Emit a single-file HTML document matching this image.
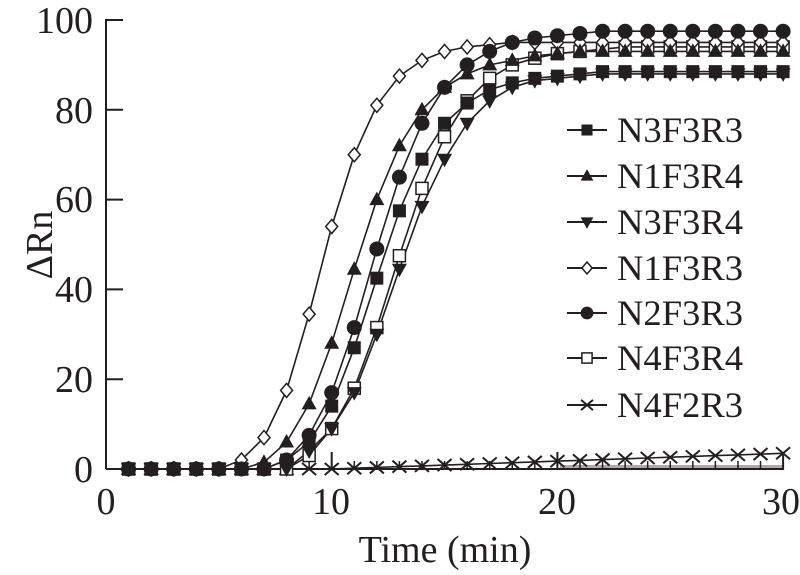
<!DOCTYPE html>
<html><head><meta charset="utf-8"><style>
html,body{margin:0;padding:0;background:#fff;}
svg{display:block;font-family:"Liberation Serif",serif;}
</style></head><body>
<svg id="s" width="800" height="575" viewBox="0 0 800 575" xmlns="http://www.w3.org/2000/svg">
<rect width="800" height="575" fill="#fff"/>
<g id="plot"></g>
<g fill="#231f20" font-size="38">
<text x="93" y="33" text-anchor="end">100</text>
<text x="93" y="123" text-anchor="end">80</text>
<text x="93" y="212" text-anchor="end">60</text>
<text x="93" y="302" text-anchor="end">40</text>
<text x="93" y="392" text-anchor="end">20</text>
<text x="93" y="482" text-anchor="end">0</text>
<text x="106" y="514" text-anchor="middle">0</text>
<text x="331" y="514" text-anchor="middle">10</text>
<text x="557" y="514" text-anchor="middle">20</text>
<text x="781" y="514" text-anchor="middle">30</text>
<text x="445" y="562" text-anchor="middle">Time (min)</text>
<text transform="translate(52,245) rotate(-90)" text-anchor="middle">ΔRn</text>
</g>
</svg>
<script>
const X=t=>106+t*22.57, Y=v=>469-v*4.49;
const fill=(a,n,v)=>{while(a.length<n)a.push(v);return a;};
function arr(start,vals,plateau){let a=[];for(let i=1;i<start;i++)a.push(0);a=a.concat(vals);return fill(a,30,plateau);}
const S=[
 {n:"N3F3R3",m:"sq",d:arr(8,[2,6,14,27,42.5,57.5,69,77,81.5,84.5,86,87,87.5,88],88.5)},
 {n:"N1F3R4",m:"tu",d:arr(7,[1.5,6,14.5,28,44.5,60,72,80,85,88,90,91,92,92.5],93)},
 {n:"N3F3R4",m:"td",d:arr(9,[4,9,17,30,44.5,58.5,69,77,82,85,86.5,87,87.5],88)},
 {n:"N1F3R3",m:"di",d:arr(6,[2,7,17.5,34.5,54,70,81,87.5,91,93,94,94.5],95)},
 {n:"N2F3R3",m:"ci",d:arr(8,[2,7.5,17,31.5,49,65,77,85,90,93,95,96,96.5,97],97.5)},
 {n:"N4F3R4",m:"os",d:arr(9,[3,9,18,31.5,47.5,62.5,74,82,87,90,91.5,92.5,93,93.5],94)},
 {n:"N4F2R3",m:"x",d:Array.from({length:30},(_,i)=>{const t=i+1;return t<=10?0:0.175*(t-10);})}
];
const c="#231f20";
function marker(m,x,y,s){s=s||1;
 if(m=="sq")return `<rect x="${x-6.5*s}" y="${y-6.5*s}" width="${13*s}" height="${13*s}" fill="${c}"/>`;
 if(m=="os")return `<rect x="${x-6*s}" y="${y-6*s}" width="${12*s}" height="${12*s}" fill="#fff" stroke="${c}" stroke-width="1.5"/>`;
 if(m=="tu")return `<polygon points="${x},${y-8*s} ${x-7.5*s},${y+5.5*s} ${x+7.5*s},${y+5.5*s}" fill="${c}"/>`;
 if(m=="td")return `<polygon points="${x},${y+8*s} ${x-7.5*s},${y-5.5*s} ${x+7.5*s},${y-5.5*s}" fill="${c}"/>`;
 if(m=="ci")return `<circle cx="${x}" cy="${y}" r="${7.5*s}" fill="${c}"/>`;
 if(m=="di")return `<polygon points="${x},${y-7*s} ${x+6*s},${y} ${x},${y+7*s} ${x-6*s},${y}" fill="#fff" stroke="${c}" stroke-width="1.5"/>`;
 if(m=="x")return `<path d="M${x-7*s},${y-6*s}L${x+7*s},${y+6*s}M${x+7*s},${y-6*s}L${x-7*s},${y+6*s}" stroke="${c}" stroke-width="2"/>`;
}
let h="";
h+=`<rect x="560" y="465" width="223" height="3" fill="#aaa"/>`;
h+=`<line x1="106" y1="19" x2="106" y2="469" stroke="${c}" stroke-width="2"/>`;
h+=`<line x1="106" y1="469" x2="784" y2="469" stroke="${c}" stroke-width="2"/>`;
for(let v=0;v<=100;v+=20)h+=`<line x1="106" y1="${Y(v)}" x2="123" y2="${Y(v)}" stroke="${c}" stroke-width="2"/>`;
for(let t=10;t<=30;t+=10)h+=`<line x1="${X(t)}" y1="469" x2="${X(t)}" y2="452" stroke="${c}" stroke-width="2"/>`;
for(let t=1;t<=30;t++)h+=`<line x1="${X(t)}" y1="469" x2="${X(t)}" y2="461" stroke="${c}" stroke-width="1.5"/>`;
for(const s of S){
 let p=s.d.map((v,i)=>`${X(i+1).toFixed(1)},${Y(v).toFixed(1)}`).join(" ");
 h+=`<polyline points="${p}" fill="none" stroke="${c}" stroke-width="1.6"/>`;
}
const order=[6,5,3,2,4,1,0];
for(const k of order){const s=S[k];s.d.forEach((v,i)=>{h+=marker(s.m,X(i+1),Y(v));});}
const ly=[130,176,222,268,313,358,405];
S.forEach((s,i)=>{const y=ly[i];
 h+=`<line x1="567" y1="${y}" x2="607" y2="${y}" stroke="${c}" stroke-width="2"/>`;
 h+=marker(s.m,587,y,0.85);
 h+=`<text x="617" y="${y+12}" font-size="36" fill="${c}" textLength="126" lengthAdjust="spacingAndGlyphs">${s.n}</text>`;
});
document.getElementById("plot").innerHTML=h;
</script>
</body></html>
